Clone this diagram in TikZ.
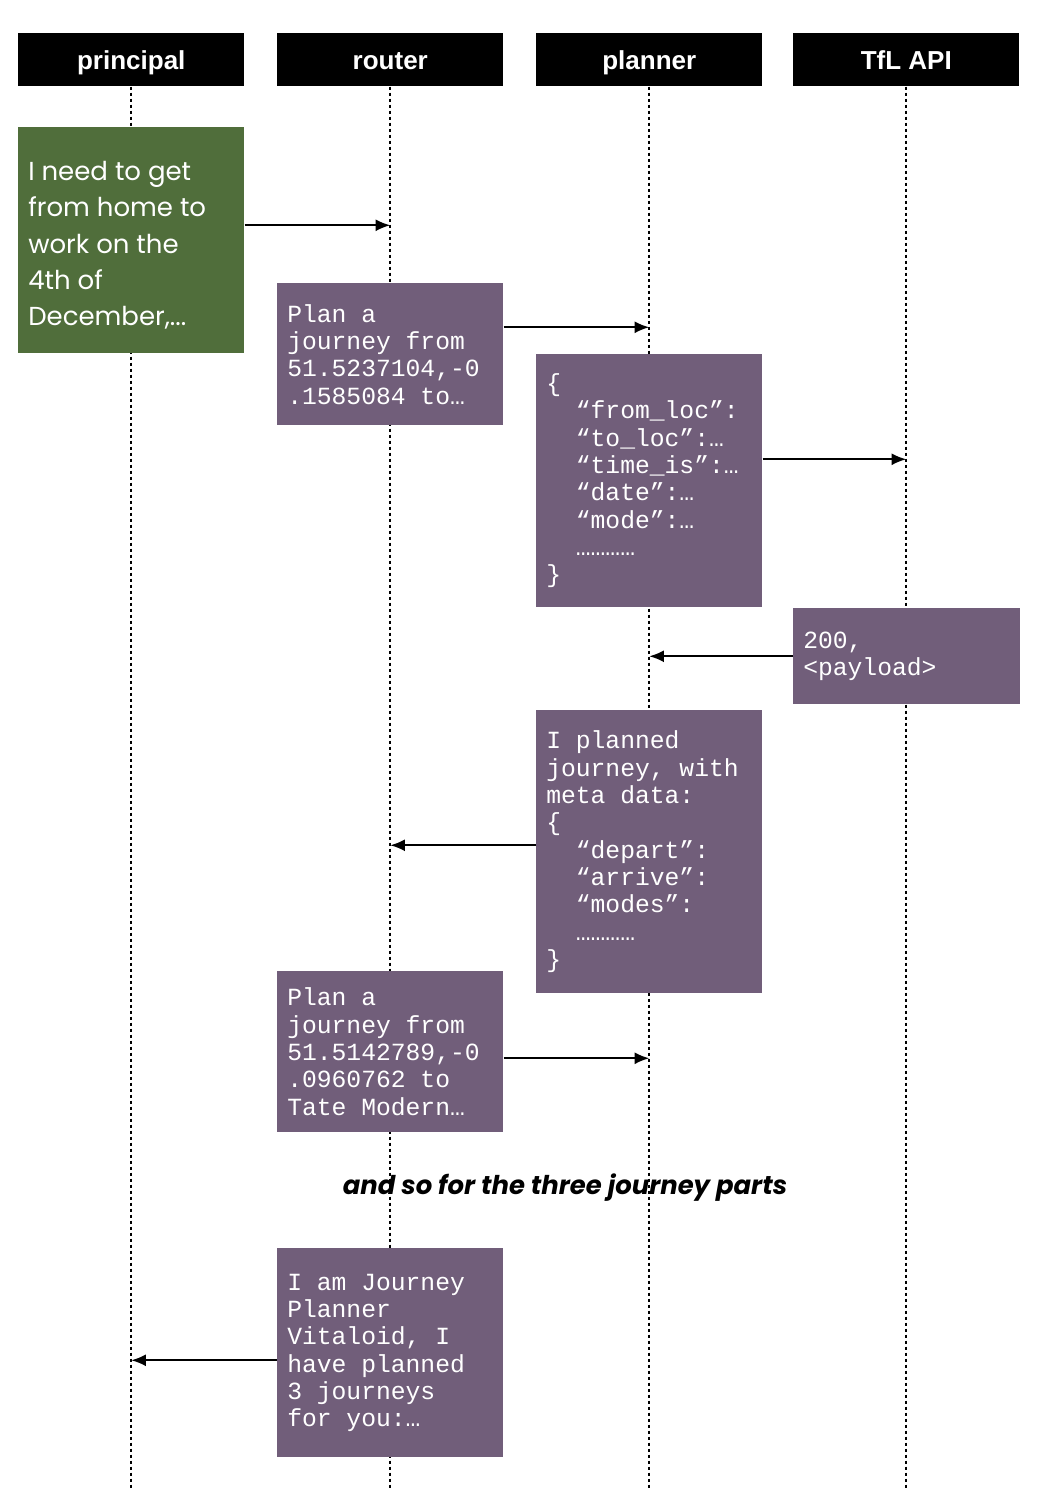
\documentclass[tikz,border=0pt]{standalone}
\usepackage{fontspec}
\setmainfont{Liberation Sans}
\setmonofont{Liberation Mono}
\newfontfamily\handfont{Poppins}
\newfontfamily\notefont{Poppins}
\usepackage{tikz}
\usetikzlibrary{calc}
\usetikzlibrary{arrows.meta}
\definecolor{plum}{RGB}{113,94,122}
\definecolor{moss}{RGB}{80,110,59}
\tikzstyle{head}=[fill=black, text=white, minimum width=169.5pt, minimum height=39.75pt, inner sep=0pt, text height=16pt, text depth=1.75pt, font=\fontsize{19.5}{20}\selectfont\bfseries]
\tikzstyle{life}=[line width=1.5pt, dash pattern=on 2.5pt off 2pt]
\tikzstyle{card}=[fill=plum, text=white, anchor=north west, inner xsep=7.5pt, inner ysep=0pt, text width=154.5pt, align=flush left, execute at begin node={\spaceskip=0pt\xspaceskip=0pt}, font=\ttfamily\fontsize{18.5}{20.5}\selectfont]
\tikzstyle{msg}=[-{Latex[length=11pt,width=9pt]}, line width=1.4pt]
\newcommand{\lifeLine}[1]{%
    \draw [life] (#1.south) -- (#1.south |- bottom);
}
\newcommand{\ind}{\phantom{xx}}

\begin{document}
\begin{tikzpicture}[x=0.75pt, y=-0.75pt]
    \useasboundingbox (0,0) rectangle (1040,1488);
    \coordinate (bottom) at (0,1488);

    %heads
    \node [head, anchor=north west] (hp) at (18,33) {principal};
    \node [head, anchor=north west] (hr) at (277,33) {router};
    \node [head, anchor=north west] (hl) at (536,33) {planner};
    \node [head, anchor=north west] (ht) at (793,33) {TfL API};

    %lifelines
    \foreach \h in {hp,hr,hl,ht} {
    \lifeLine{\h}
    }

    % request
    \node [card, fill=moss, minimum height=169.5pt, font=\handfont\fontsize{19.5}{27.2}\selectfont] (ask) at (18,127)
        {\rule{0pt}{22pt}I need to get\\from home to\\work on the\\4th of\\December,...};
    \node [card, minimum height=106.5pt] (plan1) at (277,283)
        {Plan a\\journey from\\51.5237104,-0\\.1585084 to…};
    \node [card, minimum height=189.75pt] (query) at (536,354)
        {\{\\\ind“from\_loc”:\\\ind“to\_loc”:…\\\ind“time\_is”:…\\\ind“date”:…\\\ind“mode”:…\\\ind…………\\\}};
    \node [card, minimum height=72pt, text width=155.25pt] (reply) at (793,608)
        {200,\\<payload>};
    \node [card, minimum height=212.25pt] (meta) at (536,710)
        {I planned\\journey, with\\meta data:\\\{\\\ind“depart”:\\\ind“arrive”:\\\ind“modes”:\\\ind…………\\\}};
    \node [card, minimum height=120.75pt] (plan2) at (277,971)
        {Plan a\\journey from\\51.5142789,-0\\.0960762 to\\Tate Modern…};
    \node [card, minimum height=156.75pt] (answer) at (277,1248)
        {I am Journey\\Planner\\Vitaloid, I\\have planned\\3 journeys\\for you:…};

    \node [font=\notefont\fontsize{19.4}{22}\selectfont\bfseries\itshape] (more) at (565,1188)
        {and so for the three journey parts};

    %messages
    \coordinate (m1) at ($(ask.east)+(0,-15)$);
    \coordinate (m2) at ($(plan1.east)+(0,-27)$);
    \coordinate (m3) at ($(query.east)+(0,-21.5)$);
    \coordinate (m4) at (reply.west);
    \coordinate (m5) at ($(meta.west)+(0,-6.5)$);
    \coordinate (m6) at ($(plan2.east)+(0,6.5)$);
    \coordinate (m7) at ($(answer.west)+(0,7.5)$);

    \draw [msg] (m1) -- (m1 -| hr.south);
    \draw [msg] (m2) -- (m2 -| hl.south);
    \draw [msg] (m3) -- (m3 -| ht.south);
    \draw [msg] (m4) -- (m4 -| hl.south);
    \draw [msg] (m5) -- (m5 -| hr.south);
    \draw [msg] (m6) -- (m6 -| hl.south);
    \draw [msg] (m7) -- (m7 -| hp.south);

\end{tikzpicture}
\end{document}
